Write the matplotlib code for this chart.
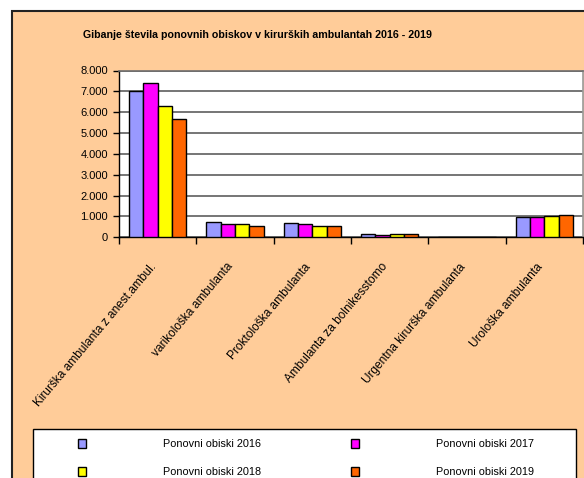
import numpy as np
import matplotlib
matplotlib.use("Agg")
import matplotlib.pyplot as plt
from matplotlib.patches import Rectangle
from matplotlib.transforms import ScaledTranslation

# data
categories = ["Kirurška ambulanta z anest.ambul.", "varikološka ambulanta",
              "Proktološka ambulanta", "Ambulanta za bolnikesstomo",
              "Urgentna kirurška ambulanta", "Urološka ambulanta"]
series_names = ["Ponovni obiski 2016", "Ponovni obiski 2017",
                "Ponovni obiski 2018", "Ponovni obiski 2019"]
visits_2016 = [7000, 710, 695, 170, 30, 950]
visits_2017 = [7400, 645, 615, 100, 0, 985]
visits_2018 = [6300, 630, 550, 160, 0, 1015]
visits_2019 = [5680, 565, 535, 160, 0, 1090]
colors = ["#9999FF", "#FF00FF", "#FFFF00", "#FF6600"]
y_ticks = [0, 1000, 2000, 3000, 4000, 5000, 6000, 7000, 8000]
y_tick_labels = ["0", "1.000", "2.000", "3.000", "4.000", "5.000", "6.000", "7.000", "8.000"]
title = "Gibanje števila ponovnih obiskov v kirurških ambulantah 2016 - 2019"

W, H = 584, 478
plt.rcParams["font.family"] = ["Liberation Sans", "DejaVu Sans"]
fig = plt.figure(figsize=(W / 100, H / 100), dpi=100)
fig.patch.set_facecolor("white")

# peach chart area with black border (cut at right/bottom like the reference)
fig.patches.append(Rectangle((11.5 / W, -0.1), 1.0, (H - 11.5) / H + 0.1,
                             transform=fig.transFigure, facecolor="#FFCC99",
                             edgecolor="#222222", linewidth=1.5, zorder=0))

ax = fig.add_axes([119 / W, 1 - 237.3 / H, (583 - 119) / W, (237.3 - 70.5) / H])
ax.set_zorder(2)
ax.set_facecolor("white")

x = np.arange(len(categories))
bw = 0.185
all_values = [visits_2016, visits_2017, visits_2018, visits_2019]
bars = []
for i, vals in enumerate(all_values):
    b = ax.bar(x + (i - 1.5) * bw, vals, bw, color=colors[i], edgecolor="black",
               linewidth=1.0, label=series_names[i], zorder=3)
    bars.append(b)

ax.set_xlim(-0.5, len(categories) - 0.5)
ax.set_ylim(0, 8000)
ax.set_yticks(y_ticks)
ax.set_yticklabels(y_tick_labels, fontsize=8)
ax.yaxis.grid(True, color="#5e5e5e", linewidth=1.2)
ax.set_axisbelow(True)

ax.set_xticks(x)
ax.set_xticklabels(categories, fontsize=8.6, rotation=50, ha="right", va="top",
                   rotation_mode="anchor")
ax.set_xticks(np.arange(-0.5, len(categories)), minor=True)
ax.tick_params(axis="x", which="major", length=0, pad=17)
ax.tick_params(axis="x", which="minor", length=5, direction="out", width=1)
ax.tick_params(axis="y", length=4, direction="out", width=1, pad=4)
shift = ScaledTranslation(-6 / 72, 0, fig.dpi_scale_trans)
for lbl in ax.get_xticklabels():
    lbl.set_transform(lbl.get_transform() + shift)

for side in ["left", "bottom"]:
    ax.spines[side].set_color("black")
    ax.spines[side].set_linewidth(1.0)
ax.spines["top"].set_color("#6e6e6e")
ax.spines["top"].set_linewidth(1.2)
ax.spines["right"].set_color("#9a9a9a")
ax.spines["right"].set_linewidth(1.2)

fig.text(83 / W, 1 - 35 / H, title, fontsize=7.65, fontweight="bold",
         ha="left", va="center")

# legend box
fig.patches.append(Rectangle((33 / W, -0.1), (576 - 33) / W, (H - 429) / H + 0.1,
                             transform=fig.transFigure, facecolor="white",
                             edgecolor="black", linewidth=1.0, zorder=1))
order = [0, 2, 1, 3]
fs = 7.8
px = fs * 100 / 72
fig.legend([bars[i] for i in order], [series_names[i] for i in order], ncol=2,
           loc="upper left", bbox_to_anchor=(78 / W, 1 - 439 / H), frameon=False,
           fontsize=fs, borderpad=0, borderaxespad=0,
           handlelength=8 / px, handleheight=10 / px, handletextpad=77 / px,
           columnspacing=90 / px, labelspacing=1.6)

fig.savefig("out.png", dpi=100)
